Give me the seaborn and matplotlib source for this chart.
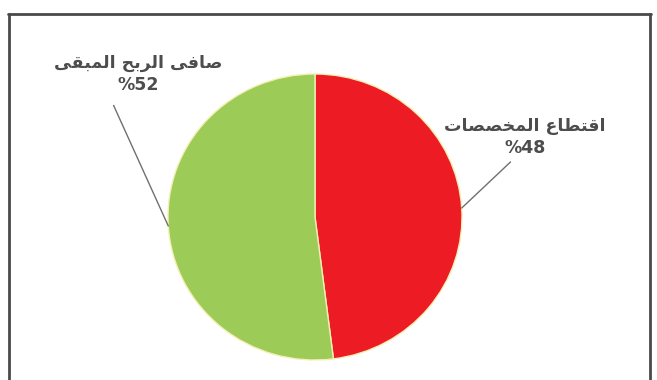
import numpy as np
import matplotlib
matplotlib.use("Agg")
import matplotlib.pyplot as plt
import seaborn as sns

# ---- data ----
categories = ["اقتطاع المخصصات", "صافى الربح المبقى"]
values = [48, 52]
pct_labels = ["%48", "%52"]
colors = ["#ED1C24", "#9DCB57"]

# ---- minimal Arabic shaping (presentation forms, visual order) ----
FORMS = {
    "ا": (0xFE8D, 0xFE8E, None, None),
    "ب": (0xFE8F, 0xFE90, 0xFE91, 0xFE92),
    "ت": (0xFE95, 0xFE96, 0xFE97, 0xFE98),
    "ح": (0xFEA1, 0xFEA2, 0xFEA3, 0xFEA4),
    "خ": (0xFEA5, 0xFEA6, 0xFEA7, 0xFEA8),
    "ر": (0xFEAD, 0xFEAE, None, None),
    "ص": (0xFEB9, 0xFEBA, 0xFEBB, 0xFEBC),
    "ط": (0xFEC1, 0xFEC2, 0xFEC3, 0xFEC4),
    "ع": (0xFEC9, 0xFECA, 0xFECB, 0xFECC),
    "ف": (0xFED1, 0xFED2, 0xFED3, 0xFED4),
    "ق": (0xFED5, 0xFED6, 0xFED7, 0xFED8),
    "ل": (0xFEDD, 0xFEDE, 0xFEDF, 0xFEE0),
    "م": (0xFEE1, 0xFEE2, 0xFEE3, 0xFEE4),
    "ى": (0xFEEF, 0xFEF0, None, None),
}

def shape(text):
    out = []
    for i, ch in enumerate(text):
        if ch not in FORMS:
            out.append(ch)
            continue
        prev = text[i - 1] if i > 0 else ""
        nxt = text[i + 1] if i + 1 < len(text) else ""
        joins_prev = prev in FORMS and FORMS[prev][2] is not None
        joins_next = nxt in FORMS and FORMS[ch][2] is not None
        iso, fin, ini, med = FORMS[ch]
        if joins_prev and joins_next:
            g = med
        elif joins_prev:
            g = fin
        elif joins_next:
            g = ini
        else:
            g = iso
        out.append(chr(g))
    return "".join(reversed(out))

sns.set_theme(style="white")
plt.rcParams["font.family"] = ["DejaVu Sans"]

W, H = 657, 380
fig = plt.figure(figsize=(W / 100, H / 100), dpi=100)
fig.patch.set_facecolor("white")

# outer frame (open at bottom)
frame_kw = dict(color="#4a4a4a", lw=2.0, transform=fig.transFigure, clip_on=False)
fig.add_artist(plt.Line2D([9 / W, 9 / W], [0, 1 - 14 / H], **frame_kw))
fig.add_artist(plt.Line2D([8 / W, 651 / W], [1 - 14 / H, 1 - 14 / H], **frame_kw))
fig.add_artist(plt.Line2D([650 / W, 650 / W], [0, 1 - 14 / H], **frame_kw))

cx, cy, rx, ry = 315, 217, 147, 143
ax = fig.add_axes([(cx - rx) / W, (H - cy - ry) / H, 2 * rx / W, 2 * ry / H])
wedges, _ = ax.pie(values, colors=colors, startangle=90, counterclock=False,
                   radius=1.0,
                   wedgeprops=dict(edgecolor="#f4efb4", linewidth=1.0))
ax.set_aspect("auto")
ax.set_xlim(-1, 1)
ax.set_ylim(-1, 1)
ax.axis("off")

text_pos = [(1.43, 0.56), (-1.20, 1.0)]
line_start = [(1.33, 0.385), (-1.37, 0.78)]
for w, cat, pct, tp, ls in zip(wedges, categories, pct_labels, text_pos, line_start):
    ang = np.deg2rad((w.theta1 + w.theta2) / 2)
    xy = (np.cos(ang), np.sin(ang))
    ax.annotate("", xy=xy, xytext=ls, annotation_clip=False,
                arrowprops=dict(arrowstyle="-", color="#707070", lw=1.0,
                                shrinkA=0, shrinkB=0))
    ax.text(tp[0], tp[1], shape(cat) + "\n" + pct, ha="center", va="center",
            fontsize=12.5, fontweight="bold", color="#4d4d4d",
            linespacing=1.32, clip_on=False)

fig.savefig("out.png", dpi=100, facecolor="white")
